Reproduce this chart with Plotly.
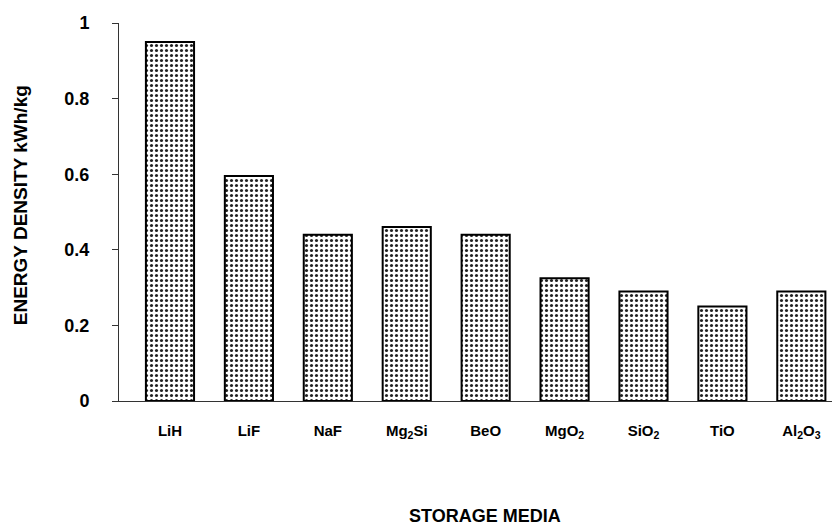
import plotly.graph_objects as go

categories = ["LiH", "LiF", "NaF", "Mg<sub>2</sub>Si", "BeO", "MgO<sub>2</sub>",
              "SiO<sub>2</sub>", "TiO", "Al<sub>2</sub>O<sub>3</sub>"]
energy_density = [0.95, 0.595, 0.44, 0.46, 0.44, 0.325, 0.29, 0.25, 0.29]
y_tick_vals = [0, 0.2, 0.4, 0.6, 0.8, 1]
y_tick_text = ["0", "0.2", "0.4", "0.6", "0.8", "1"]
x_title = "STORAGE MEDIA"
y_title = "ENERGY DENSITY kWh/kg"

x_pos = list(range(len(categories)))

FONT = "Liberation Sans, Arial, sans-serif"

fig = go.Figure(go.Bar(
    x=x_pos, y=energy_density, width=0.61,
    marker=dict(
        color="white",
        line=dict(color="black", width=2),
        pattern=dict(shape=".", size=5, solidity=0.3, fgcolor="#222", bgcolor="white",
                     fillmode="replace"),
    ),
    hoverinfo="skip",
))

# page body has an 8px margin, so the figure is sized to fit the 840x527 window
fig.update_layout(
    width=832, height=519,
    margin=dict(l=111, r=0, t=15, b=126),
    paper_bgcolor="white", plot_bgcolor="white",
    showlegend=False,
    font=dict(family=FONT, color="black"),
    xaxis=dict(
        range=[-0.646, 8.49],
        tickmode="array", tickvals=x_pos, ticktext=categories,
        showline=True, linecolor="#333", linewidth=1,
        ticks="", showgrid=False, zeroline=False,
        tickfont=dict(size=15, family=FONT, weight="bold"),
        ticklabelstandoff=16,
    ),
    yaxis=dict(
        range=[0, 1],
        tickmode="array", tickvals=y_tick_vals, ticktext=y_tick_text,
        showline=True, linecolor="#333", linewidth=1,
        ticks="outside", ticklen=6, tickcolor="#333",
        showgrid=False, zeroline=False,
        tickfont=dict(size=18, family=FONT, weight="bold"),
        ticklabelstandoff=19,
    ),
    annotations=[
        dict(text=x_title, xref="paper", yref="paper",
             x=0.5076, y=-0.304, xanchor="center", yanchor="middle",
             showarrow=False, font=dict(size=18, family=FONT, weight="bold")),
        dict(text=y_title, xref="paper", yref="paper",
             x=-0.1373, y=0.518, xanchor="center", yanchor="middle", textangle=-90,
             showarrow=False, font=dict(size=19, family=FONT, weight="bold")),
    ],
)

fig.write_html("out.html")
